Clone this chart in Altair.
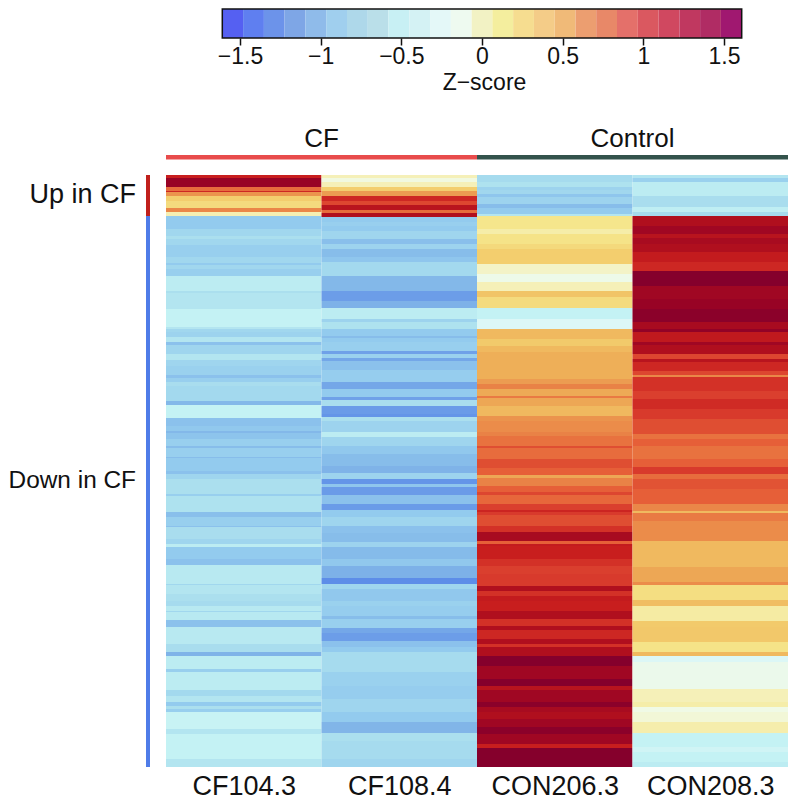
import altair as alt
import pandas as pd

FONT = "Liberation Sans"
samples = ["CF104.3", "CF108.4", "CON206.3", "CON208.3"]
groups = ["CF", "Control"]
total_rows = 592

cf104_ends = [3,12,16,17,21,26,33,37,41,54,61,64,70,82,88,90,94,101,116,118,134,144,152,154,157,162,167,170,179,185,191,200,203,207,211,226,230,243,251,256,258,264,271,273,282,283,296,299,304,319,321,337,342,351,352,364,369,372,384,390,409,410,419,426,431,436,437,445,452,469,477,481,494,497,515,521,527,531,534,537,554,559,584,592]
cf104_z = [1.15,1.45,.8,1.1,.65,.4,.32,.7,.12,-.85,-.7,-.6,-.7,-.8,-.7,-.85,-.7,-.8,-.5,-.6,-.55,-.45,-.45,-.55,-.7,-.75,-.55,-.95,-.72,-.55,-.72,-.78,-.95,-.8,-.62,-.68,-1.05,-.45,-.95,-.88,-1.05,-.92,-.8,-1.0,-.8,-1.0,-.85,-.95,-.72,-.6,-.8,-.58,-.98,-.8,-.95,-.62,-.72,-.5,-.85,-.95,-.52,-.7,-.55,-.6,-.65,-.52,-.7,-.52,-.95,-.52,-.62,-1.1,-.5,-.8,-.5,-.68,-.55,-.85,-.6,-.8,-.42,-.55,-.45,-.55]

cf108_ends = [3,7,12,16,21,26,30,35,38,42,47,51,56,64,69,74,82,87,101,116,126,133,144,147,154,161,163,167,176,179,183,186,195,207,214,222,225,231,239,242,246,257,262,271,279,291,298,304,309,312,320,329,335,342,351,358,367,372,384,391,403,409,414,426,431,441,444,453,458,466,472,477,497,511,524,537,547,558,566,584,592]
cf108_z = [.1,-.03,.1,.4,.62,1.1,.95,1.25,.8,1.3,-.85,-.8,-.85,-.72,-.98,-.75,-1.0,-.9,-.68,-1.05,-1.28,-1.12,-.5,-.75,-.58,-.85,-1.0,-.85,-.8,-1.25,-.78,-1.2,-.95,-.82,-1.2,-.85,-1.25,-.62,-1.3,-1.35,-.6,-.75,-.5,-.72,-.88,-1.0,-1.1,-.75,-1.35,-.9,-1.3,-.95,-1.3,-.85,-.72,-.95,-1.0,-.75,-1.02,-.88,-1.12,-1.42,-.72,-.88,-.78,-.82,-1.0,-.8,-1.2,-1.28,-.95,-.85,-.65,-.78,-.82,-.72,-.85,-1.08,-.6,-.65,-.72]

con206_ends = [7,12,15,19,22,29,33,39,41,54,59,69,74,89,99,107,116,122,133,144,154,164,171,177,204,209,214,221,223,231,241,246,257,261,271,273,284,293,300,303,311,317,320,329,335,337,340,351,357,366,369,371,384,391,399,411,416,421,426,436,444,451,455,464,469,472,481,491,504,511,515,527,532,537,544,552,559,569,573,577,592]
con206_z = [-.65,-.58,-.75,-.7,-.9,-.75,-1.0,-.85,-.55,.25,.15,.27,.33,.4,.05,-.08,.1,.45,.32,-.45,-.25,.5,.42,.5,.55,.62,.72,.57,.75,.58,.5,.65,.68,.72,.78,.92,.8,.92,.85,.58,.72,.85,.95,.82,.98,1.12,1.0,.92,1.05,1.35,.85,1.18,1.15,1.05,.98,1.0,1.3,1.05,1.18,1.15,1.3,1.05,1.3,1.1,1.3,1.05,1.3,1.6,1.4,1.6,1.25,1.4,1.55,1.35,1.3,1.4,1.55,1.4,1.15,1.6,1.6]

con208_ends = [3,7,21,32,37,41,51,59,63,69,77,87,96,111,124,134,147,154,157,167,170,179,184,187,196,200,202,216,224,234,244,259,264,271,284,292,299,304,314,329,336,338,346,359,366,392,397,407,410,425,431,446,452,467,477,481,487,514,527,532,537,547,558,572,577,587,592]
con208_z = [-.55,-.78,-.5,-.62,-.48,-.65,1.3,1.4,1.25,1.35,1.3,1.18,1.1,1.6,1.4,1.45,1.55,1.35,1.5,1.2,1.4,1.3,.95,1.25,1.1,.95,.7,1.05,.98,1.08,1.0,.92,.78,.85,.78,.85,1.0,.8,.9,.85,.7,.5,.75,.68,.68,.5,.58,.58,.68,.3,.48,.17,.42,.43,.27,.5,-.25,-.1,.1,.15,-.05,.0,.14,-.45,-.35,-.45,-.5]

legend_edges = [-1.61,-1.481,-1.352,-1.224,-1.095,-.966,-.837,-.708,-.58,-.451,-.322,-.193,-.064,.064,.193,.322,.451,.58,.708,.837,.966,1.095,1.224,1.352,1.481,1.61]
legend_colors = ["#5560f2","#5f7ff0","#6c93ea","#7ea6e6","#8fbbea","#a0cfee","#aed8ea","#badfe9","#c8f0f4","#d4f2f4","#e4f8f8","#eefaf0","#f2f2c4","#f4ee9e","#f6dd90","#f4cc88","#f0ba78","#ec9e70","#e88868","#e4706a","#da5860","#d04860","#c03860","#b02c64","#a01870"]
legend_ticks = [-1.5,-1,-.5,0,.5,1,1.5]

heat_domain = [-1.6,-1.4,-1.1,-.85,-.6,-.45,-.2,-.05,.1,.25,.4,.55,.7,.85,1.0,1.15,1.3,1.45,1.6]
heat_range = ["#4f7fe6","#5f8fe8","#7fb3e8","#93cbee","#abdfee","#c4f2f4","#e2f8f6","#f0fae6","#f5f0b8","#f5e68c","#f3ce6e","#eeaf58","#ea8748","#e65f38","#d83a2c","#c81e1e","#b00f1e","#980325","#85002c"]

records = []
for i, (ends, zs) in enumerate([(cf104_ends, cf104_z), (cf108_ends, cf108_z), (con206_ends, con206_z), (con208_ends, con208_z)]):
    start = 0
    for end, z in zip(ends, zs, strict=False):
        records.append({"col": i, "col2": i + 1, "start": start, "end": end, "z": z})
        start = end
heat_df = pd.DataFrame(records)

y_scale = alt.Scale(domain=[total_rows, 0], nice=False, zero=False)
x_scale = alt.Scale(domain=[0, 4], nice=False, zero=False)
label_expr = "{'0.5':'CF104.3','1.5':'CF108.4','2.5':'CON206.3','3.5':'CON208.3'}[datum.value]"

heat = alt.Chart(heat_df).mark_rect().encode(
    x=alt.X("col:Q", scale=x_scale, title=None,
            axis=alt.Axis(values=[.5, 1.5, 2.5, 3.5], labelExpr=label_expr, grid=False, domain=False, ticks=False,
                          labelFontSize=27, labelFont=FONT, labelColor="#111", labelPadding=6, labelFlush=False)),
    x2="col2:Q",
    y=alt.Y("start:Q", scale=y_scale, axis=None),
    y2="end:Q",
    color=alt.Color("z:Q", scale=alt.Scale(domain=heat_domain, range=heat_range, interpolate="rgb"), legend=None),
)

group_df = pd.DataFrame({"g": groups, "a": [0, 2], "b": [2, 4], "m": [1, 3], "c": ["#e84c4c", "#33534c"]})
group_bars = alt.Chart(group_df).mark_rect().encode(
    x=alt.X("a:Q", scale=x_scale), x2="b:Q", y=alt.value(-20), y2=alt.value(-15.5),
    color=alt.Color("c:N", scale=None))
group_text = alt.Chart(group_df).mark_text(fontSize=26, font=FONT, color="#111", baseline="alphabetic").encode(
    x=alt.X("m:Q", scale=x_scale), y=alt.value(-28), text="g:N")

side_df = pd.DataFrame({"label": ["Up in CF", "Down in CF"], "a": [0, 41], "b": [41, 592], "mid": [20, 306],
                        "c": ["#c0201c", "#4f7ce8"], "size": [27, 24.4]})
side_bars = alt.Chart(side_df).mark_rect().encode(
    x=alt.value(-20), x2=alt.value(-16),
    y=alt.Y("a:Q", scale=y_scale), y2="b:Q",
    color=alt.Color("c:N", scale=None))
side_text = alt.Chart(side_df).mark_text(align="right", baseline="middle", font=FONT, color="#111").encode(
    x=alt.value(-30), y=alt.Y("mid:Q", scale=y_scale), text="label:N",
    size=alt.Size("size:Q", scale=None))

heatmap = alt.layer(heat, group_bars, group_text, side_bars, side_text).resolve_scale(color="independent").properties(width=622, height=592)

lx = alt.Scale(domain=[-1.959, 1.897], nice=False, zero=False)
legend_df = pd.DataFrame({"a": legend_edges[:-1], "b": legend_edges[1:], "c": legend_colors})
legend_rects = alt.Chart(legend_df).mark_rect().encode(
    x=alt.X("a:Q", scale=lx, title="Z−score",
            axis=alt.Axis(values=legend_ticks, format="~g", grid=False, domain=False, tickSize=7, tickWidth=1.5,
                          tickColor="#111", labelFontSize=23, labelFont=FONT, labelColor="#111", labelPadding=0,
                          labelFlush=False, labelOverlap=False,
                          titleFontSize=23, titleFont=FONT, titleFontWeight="normal", titleColor="#111",
                          titlePadding=3, titleX=318, titleAnchor="middle")),
    x2="b:Q",
    color=alt.Color("c:N", scale=None),
)
outline_df = pd.DataFrame({"a": [legend_edges[0]], "b": [legend_edges[-1]]})
legend_box = alt.Chart(outline_df).mark_rect(fillOpacity=0, stroke="#111", strokeWidth=1.5).encode(
    x=alt.X("a:Q", scale=lx), x2="b:Q")
legend = alt.layer(legend_rects, legend_box).properties(width=622, height=29)

chart = alt.vconcat(legend, heatmap, spacing=32).properties(padding=0).configure_view(strokeWidth=0)
chart.save("out.html", embed_options={"renderer": "svg", "actions": False})
